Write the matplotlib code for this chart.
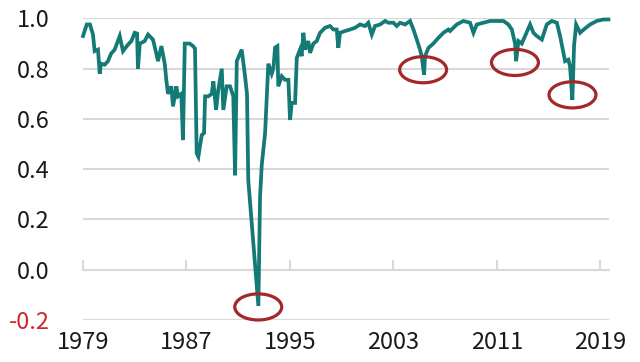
import matplotlib
matplotlib.use("Agg")
import matplotlib.pyplot as plt
from matplotlib.patches import Ellipse

# -- series (year, value)
years = [1979.00, 1979.29, 1979.54, 1979.77, 1979.90, 1980.16, 1980.29, 1980.39,
         1980.68, 1980.93, 1981.17, 1981.45, 1981.84, 1982.09, 1982.48, 1982.74,
         1983.00, 1983.18, 1983.25, 1983.39, 1983.77, 1984.03, 1984.41, 1984.67,
         1984.80, 1985.06, 1985.32, 1985.44, 1985.57, 1985.83, 1985.96, 1986.22,
         1986.35, 1986.60, 1986.73, 1986.87, 1987.25, 1987.51, 1987.66, 1987.79,
         1987.92, 1988.18, 1988.36, 1988.44, 1988.69, 1988.95, 1989.08, 1989.29,
         1989.46, 1989.73, 1989.85, 1990.11, 1990.37, 1990.62, 1990.76, 1990.89,
         1991.27, 1991.53, 1991.68, 1991.78, 1992.56, 1992.69, 1992.82, 1993.08,
         1993.21, 1993.33, 1993.59, 1993.72, 1993.85, 1994.03, 1994.10, 1994.37,
         1994.62, 1994.88, 1995.01, 1995.14, 1995.40, 1995.53, 1995.78, 1995.91,
         1996.04, 1996.17, 1996.42, 1996.56, 1996.81, 1997.07, 1997.33, 1997.72,
         1998.10, 1998.36, 1998.62, 1998.74, 1998.88, 1999.26, 1999.65, 2000.04,
         2000.42, 2000.81, 2001.06, 2001.33, 2001.58, 2001.97, 2002.36, 2002.61,
         2003.00, 2003.26, 2003.52, 2003.90, 2004.29, 2004.55, 2004.81, 2005.06,
         2005.19, 2005.37, 2005.45, 2005.71, 2006.09, 2006.48, 2006.87, 2007.25,
         2007.38, 2007.90, 2008.41, 2008.93, 2009.19, 2009.45, 2009.96, 2010.48,
         2011.00, 2011.51, 2011.89, 2012.16, 2012.41, 2012.49, 2012.67, 2012.93,
         2013.18, 2013.57, 2013.83, 2014.09, 2014.48, 2014.86, 2015.25, 2015.64,
         2015.89, 2016.15, 2016.28, 2016.53, 2016.66, 2016.84, 2016.97, 2017.13,
         2017.44, 2017.72, 2018.21, 2018.73, 2019.24, 2019.63]
values = [0.930, 0.976, 0.976, 0.936, 0.870, 0.876, 0.780, 0.820,
          0.816, 0.830, 0.860, 0.876, 0.930, 0.870, 0.896, 0.910,
          0.943, 0.940, 0.800, 0.900, 0.910, 0.936, 0.916, 0.860,
          0.830, 0.890, 0.820, 0.756, 0.700, 0.730, 0.650, 0.730,
          0.690, 0.700, 0.516, 0.900, 0.900, 0.890, 0.880, 0.464,
          0.450, 0.536, 0.544, 0.690, 0.690, 0.700, 0.750, 0.636,
          0.716, 0.800, 0.636, 0.730, 0.730, 0.690, 0.376, 0.830,
          0.876, 0.770, 0.700, 0.356, -0.144, 0.290, 0.416, 0.544,
          0.690, 0.820, 0.780, 0.800, 0.884, 0.890, 0.730, 0.770,
          0.756, 0.756, 0.596, 0.664, 0.664, 0.843, 0.876, 0.850,
          0.943, 0.876, 0.910, 0.863, 0.900, 0.910, 0.943, 0.963,
          0.970, 0.956, 0.956, 0.883, 0.943, 0.950, 0.956, 0.963,
          0.976, 0.970, 0.983, 0.936, 0.970, 0.976, 0.990, 0.983,
          0.983, 0.970, 0.983, 0.976, 0.990, 0.956, 0.916, 0.876,
          0.850, 0.776, 0.850, 0.883, 0.900, 0.923, 0.943, 0.956,
          0.950, 0.976, 0.990, 0.983, 0.943, 0.976, 0.983, 0.990,
          0.990, 0.990, 0.976, 0.956, 0.900, 0.830, 0.910, 0.900,
          0.930, 0.976, 0.943, 0.930, 0.916, 0.976, 0.990, 0.983,
          0.930, 0.863, 0.830, 0.836, 0.810, 0.676, 0.890, 0.976,
          0.943, 0.956, 0.976, 0.990, 0.996, 0.996]

# circled troughs
circle_years = [1992.55, 2005.3, 2012.4, 2016.85]
circle_values = [-0.148, 0.796, 0.825, 0.696]

x_ticks = [1979, 1987, 1995, 2003, 2011, 2019]
y_ticks = [-0.2, 0.0, 0.2, 0.4, 0.6, 0.8, 1.0]

teal = "#137a75"
red = "#a3282a"
grid = "#d9d9d9"

plt.rcParams['font.family'] = ['Noto Sans CJK KR', 'DejaVu Sans']

fig = plt.figure(figsize=(6.4, 3.62), dpi=100)
ax = fig.add_axes([0.1297, 0.116, 0.822, 0.833])

ymin, ymax = -0.2, 1.0
ax.set_ylim(ymin, ymax)
ax.set_xlim(1979, 2019.68)

for v in y_ticks:
    ax.axhline(v, color=grid, lw=1.5, zorder=1)

ax.plot(years, values, color=teal, lw=2.7, zorder=3, clip_on=False,
        solid_joinstyle='miter')

for cx, cy in zip(circle_years, circle_values):
    ax.add_patch(Ellipse((cx, cy), 3.63, 0.104, fill=False, ec=red,
                         lw=2.3, zorder=4, clip_on=False))

for s in ax.spines.values():
    s.set_visible(False)

ax.set_yticks(y_ticks)
ax.set_yticklabels(['%.1f' % v if v >= 0 else '-%.1f' % abs(v) for v in y_ticks])
ax.tick_params(axis='y', length=0, pad=24, labelsize=17, labelcolor='#1a1a1a')
ax.get_yticklabels()[0].set_color('#d0262a')

ax.set_xticks(x_ticks)
ax.tick_params(axis='x', length=0, pad=8, labelsize=17, labelcolor='#1a1a1a')

# zero line carries small upward ticks
sec = ax.secondary_xaxis((0 - ymin) / (ymax - ymin))
sec.set_xticks(x_ticks)
sec.tick_params(direction='in', length=7, width=1.5, color=grid, labelbottom=False)
sec.spines['bottom'].set_color(grid)
sec.spines['bottom'].set_linewidth(1.5)

fig.savefig('out.png', dpi=100, facecolor='white')
